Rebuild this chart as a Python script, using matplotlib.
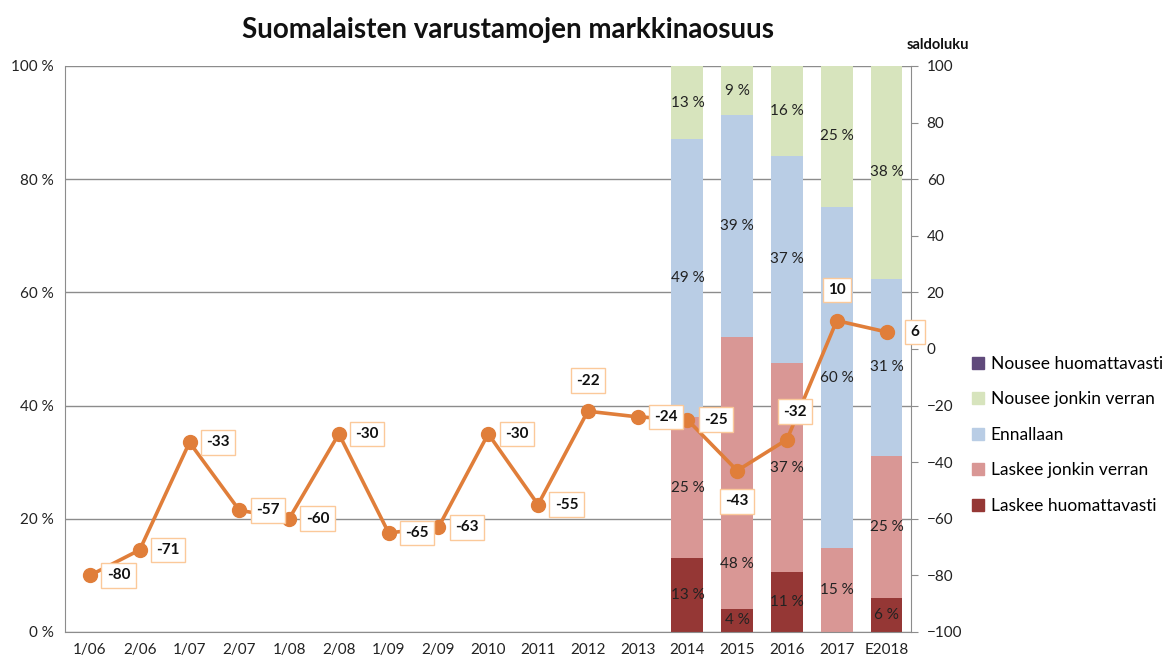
import numpy as np
import matplotlib
matplotlib.use("Agg")
import matplotlib.pyplot as plt
from matplotlib.patches import Patch

plt.rcParams['font.family'] = ['Lato', 'DejaVu Sans']

categories = ["1/06", "2/06", "1/07", "2/07", "1/08", "2/08", "1/09", "2/09",
              "2010", "2011", "2012", "2013", "2014", "2015", "2016", "2017", "E2018"]
saldo = [-80, -71, -33, -57, -60, -30, -65, -63, -30, -55, -22, -24, -25, -43, -32, 10, 6]

bar_years = ["2014", "2015", "2016", "2017", "E2018"]
laskee_huom = [13.0, 4.1, 10.6, 0.0, 6.0]
laskee_jonkin = [25.0, 48.0, 36.9, 14.8, 25.1]
ennallaan = [49.0, 39.2, 36.6, 60.3, 31.3]
nousee_jonkin = [13.0, 8.7, 15.9, 24.9, 37.6]
nousee_huom = [0.0, 0.0, 0.0, 0.0, 0.0]

series = [
    ("Laskee huomattavasti", laskee_huom, "#953735"),
    ("Laskee jonkin verran", laskee_jonkin, "#D99795"),
    ("Ennallaan", ennallaan, "#B9CDE5"),
    ("Nousee jonkin verran", nousee_jonkin, "#D7E4BD"),
    ("Nousee huomattavasti", nousee_huom, "#604A7B"),
]

# label placement for the line (offset in points)
label_offsets = {10: (0, 22), 13: (0, -22), 14: (6, 20), 15: (0, 22)}
# the 2015 "Laskee jonkin verran" label sits lower to dodge the line label
bar_label_y = {("Laskee jonkin verran", "2015"): 12}

fig = plt.figure(figsize=(11.7, 6.59), dpi=100)
ax = fig.add_axes([0.0556, 0.041, 0.7234, 0.859])

x = np.arange(len(categories))
bx = np.array([categories.index(y) for y in bar_years])
bottom = np.zeros(len(bar_years))
for name, vals, col in series:
    vals = np.array(vals)
    ax.bar(bx, vals, 0.64, bottom=bottom, color=col, zorder=2)
    for yr, xi, b, v in zip(bar_years, bx, bottom, vals):
        if v > 0.5:
            ty = bar_label_y.get((name, yr), b + v / 2)
            ax.text(xi, ty, f"{v:.0f} %", ha="center", va="center",
                    fontsize=11, color="#222222", zorder=3)
    bottom += vals

ax.set_xlim(-0.5, len(categories) - 0.5)
ax.set_ylim(0, 100)
ax.set_yticks(range(0, 101, 20))
ax.set_yticklabels([f"{v} %" for v in range(0, 101, 20)])
ax.set_xticks(x)
ax.set_xticklabels(categories)
ax.tick_params(axis="both", length=0, labelsize=11, colors="#222222", pad=8)
ax.yaxis.grid(True, color="#8c8c8c", linewidth=1, zorder=0)
ax.set_axisbelow(True)
for s in ["top", "right"]:
    ax.spines[s].set_visible(False)
for s in ["left", "bottom"]:
    ax.spines[s].set_color("#8c8c8c")

ax2 = ax.twinx()
ax2.plot(x, saldo, color="#E07E3A", linewidth=2.6, marker="o", markersize=10, zorder=5)
ax2.set_ylim(-100, 100)
ax2.set_yticks(range(-100, 101, 20))
ax2.tick_params(axis="y", length=5, color="#8c8c8c", labelsize=11, labelcolor="#222222", pad=6)
for s in ["top", "left", "bottom"]:
    ax2.spines[s].set_visible(False)
ax2.spines["right"].set_color("#8c8c8c")
for i, v in enumerate(saldo):
    dx, dy = label_offsets.get(i, (20.5, 0))
    ax2.annotate(str(v), (i, v), xytext=(dx, dy), textcoords="offset points",
                 ha="center", va="center", fontsize=11, fontweight="bold",
                 color="#111111", zorder=6, annotation_clip=False,
                 bbox=dict(boxstyle="square,pad=0.35", fc="white", ec="#FBC99A", lw=1))

fig.text(0.434, 0.955, "Suomalaisten varustamojen markkinaosuus", ha="center", va="center",
         fontsize=20, fontweight="bold", color="#111111")
fig.text(0.802, 0.932, "saldoluku", ha="center", va="center", fontsize=10.5,
         fontweight="bold", color="#111111")

handles = [Patch(color=col, label=name) for name, vals, col in reversed(series)]
fig.legend(handles=handles, loc="center left", bbox_to_anchor=(0.817, 0.34),
           frameon=False, fontsize=12.5, handlelength=0.7, handleheight=0.7,
           handletextpad=0.4, labelspacing=1.12)

fig.savefig("out.png", dpi=100)
